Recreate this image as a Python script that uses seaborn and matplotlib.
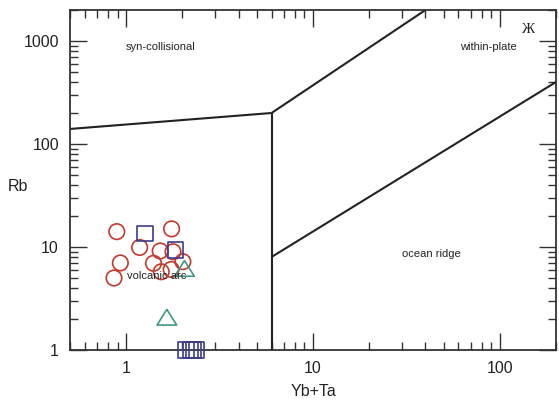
import numpy as np
import pandas as pd
import matplotlib
matplotlib.use("Agg")
import matplotlib.pyplot as plt
from matplotlib.ticker import LogLocator, FuncFormatter, NullFormatter
import seaborn as sns

# ---- data ----
circle_x = [0.89, 1.75, 1.18, 1.52, 1.78, 0.93, 1.40, 2.01, 0.86, 1.54, 1.74]
circle_y = [14.1, 15.0, 9.9, 9.15, 9.0, 7.0, 6.95, 7.2, 5.0, 5.75, 6.05]
square_x = [1.26, 1.83, 2.09, 2.20, 2.30, 2.39]
square_y = [13.4, 9.35, 1.0, 1.0, 1.0, 1.0]
triangle_x = [2.05, 1.65]
triangle_y = [6.2, 2.08]

# discrimination boundaries (Yb+Ta vs Rb)
bound_syn_vag_x = [0.5, 6]
bound_syn_vag_y = [140, 200]
bound_vert_x = [6, 6]
bound_vert_y = [1, 200]
bound_wpg_x = [6, 40]
bound_wpg_y = [200, 2000]
bound_org_x = [6, 200]
bound_org_y = [8, 400]

field_labels = ["syn-collisional", "within-plate", "ocean ridge", "volcanic arc"]
field_x = [0.99, 87, 42.8, 1.45]
field_y = [875, 875, 8.55, 5.23]
field_ha = ["left", "center", "center", "center"]

x_ticks = [1, 10, 100]
y_ticks = [1, 10, 100, 1000]

# ---- style ----
sns.set_style("ticks")
plt.rcParams["font.family"] = ["Liberation Sans", "DejaVu Sans"]

fig = plt.figure(figsize=(5.59, 4.01), dpi=100)
ax = fig.add_axes([70 / 559, 1 - 350 / 401, (556 - 70) / 559, (350 - 10) / 401])

ax.set_xscale("log")
ax.set_yscale("log")
ax.set_xlim(0.5, 200)
ax.set_ylim(1, 2000)

line_kw = dict(color="#222222", lw=1.5, solid_capstyle="butt", zorder=2)
for bx, by in [(bound_syn_vag_x, bound_syn_vag_y), (bound_vert_x, bound_vert_y),
               (bound_wpg_x, bound_wpg_y), (bound_org_x, bound_org_y)]:
    sns.lineplot(x=bx, y=by, ax=ax, estimator=None, sort=False, **line_kw)

df_c = pd.DataFrame({"x": circle_x, "y": circle_y})
df_s = pd.DataFrame({"x": square_x, "y": square_y})
df_t = pd.DataFrame({"x": triangle_x, "y": triangle_y})

red = "#C4392C"
blue = "#3B3B8E"
teal = "#3F9888"
tri_marker = [(0, 0.8), (-1, -0.8), (1, -0.8), (0, 0.8)]

sns.scatterplot(data=df_c, x="x", y="y", ax=ax, marker="o", s=125,
                facecolor="none", edgecolor=red, linewidth=1.2, zorder=3, clip_on=False)
sns.scatterplot(data=df_s, x="x", y="y", ax=ax, marker="s", s=118,
                facecolor="none", edgecolor=blue, linewidth=1.2, zorder=4, clip_on=False)
sns.scatterplot(data=df_t, x="x", y="y", ax=ax, marker=tri_marker, s=200,
                facecolor="none", edgecolor=teal, linewidth=1.2, zorder=4, clip_on=False)

for lab, tx, ty, ha in zip(field_labels, field_x, field_y, field_ha):
    ax.text(tx, ty, lab, ha=ha, va="center", fontsize=8, color="#222222", zorder=5)

ax.text(143, 1280, "Ж", ha="center", va="center", fontsize=10.5,
        family=["Liberation Serif", "DejaVu Serif"], color="#222222")

# ticks
ax.xaxis.set_major_locator(LogLocator(base=10, numticks=10))
ax.yaxis.set_major_locator(LogLocator(base=10, numticks=10))
ax.xaxis.set_minor_locator(LogLocator(base=10, subs=np.arange(2, 10), numticks=20))
ax.yaxis.set_minor_locator(LogLocator(base=10, subs=np.arange(2, 10), numticks=20))
fmt = FuncFormatter(lambda v, p: f"{v:g}")
ax.xaxis.set_major_formatter(fmt)
ax.yaxis.set_major_formatter(fmt)
ax.xaxis.set_minor_formatter(NullFormatter())
ax.yaxis.set_minor_formatter(NullFormatter())
ax.set_xticks(x_ticks)
ax.set_yticks(y_ticks)

ax.tick_params(which="both", direction="in", top=True, right=True,
               color="#333333", width=1.0)
ax.tick_params(which="major", length=12, labelsize=11.5, pad=8, colors="#333333")
ax.tick_params(which="minor", length=5.5)
for lbl in ax.get_xticklabels() + ax.get_yticklabels():
    lbl.set_color("#222222")

for sp in ax.spines.values():
    sp.set_visible(True)
    sp.set_color("#333333")
    sp.set_linewidth(1.3)

ax.set_xlabel("")
ax.set_ylabel("")
fig.text(313 / 559, 1 - 392 / 401, "Yb+Ta", ha="center", va="center", fontsize=11.5, color="#222222")
fig.text(18 / 559, 1 - 187 / 401, "Rb", ha="center", va="center", fontsize=11.5, color="#222222")

fig.savefig("out.png", dpi=100)
